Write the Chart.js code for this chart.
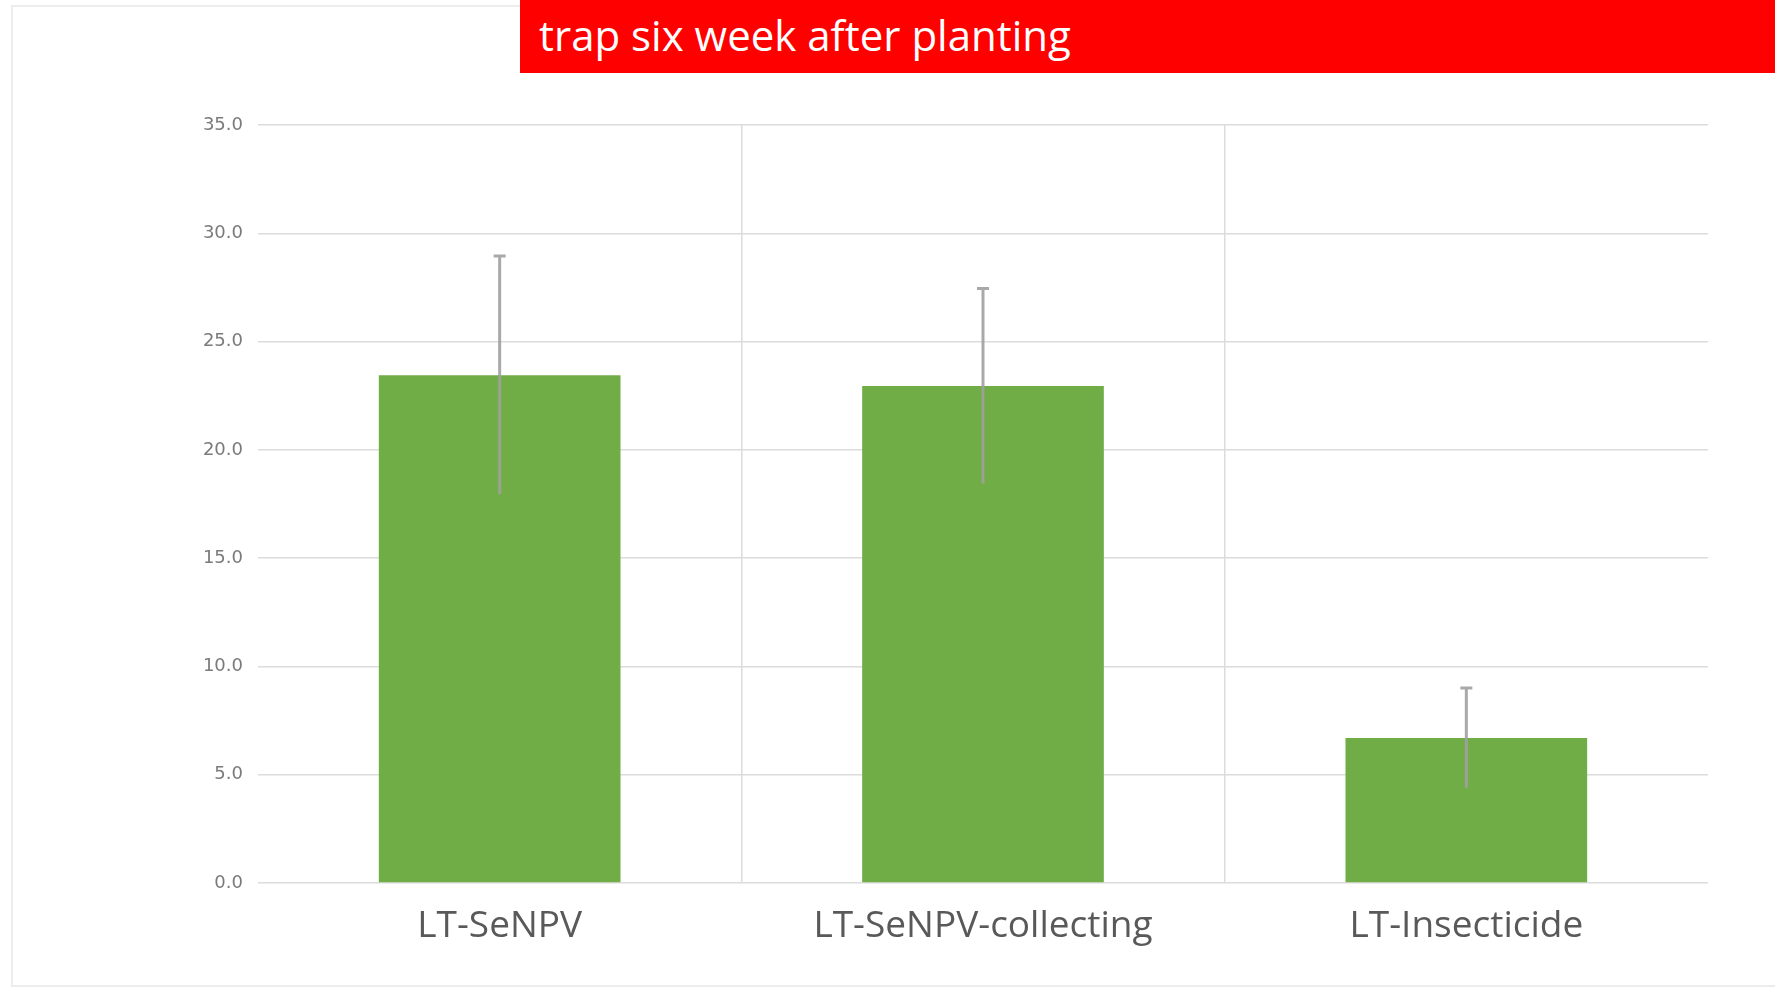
<!DOCTYPE html>
<html>
<head>
<meta charset="utf-8">
<script src="https://cdn.jsdelivr.net/npm/chart.js@4"></script>
<style>
  html, body { margin: 0; padding: 0; background: #ffffff; }
  body { width: 1775px; height: 999px; position: relative; overflow: hidden; }
  #panel { position: absolute; left: 11px; top: 5px; width: 1800px; height: 982px; border: 2px solid #ececec; box-sizing: border-box; }
  #wrap { position: absolute; left: 0; top: 0; width: 1775px; height: 999px; }
  #title { position: absolute; left: 520px; top: 0; width: 1255px; height: 73px; background: #ff0000; overflow: hidden; }
  #title span { position: absolute; left: 19px; top: 14px; font-family: "Open Sans", sans-serif; font-size: 42px; line-height: 1; color: #ffffff; white-space: nowrap; }
</style>
</head>
<body>
<div id="panel"></div>
<div id="wrap"><canvas id="c" width="1775" height="999"></canvas></div>
<div id="title"><span>trap six week after planting</span></div>
<script>
const categories = ["LT-SeNPV", "LT-SeNPV-collecting", "LT-Insecticide"];
const means = [23.45, 22.95, 6.7];
const errors = [5.5, 4.5, 2.3];
const yTicks = [0, 5, 10, 15, 20, 25, 30, 35];

const errorBarPlugin = {
  id: 'errorBars',
  afterDatasetsDraw(chart) {
    const ctx = chart.ctx;
    const xs = chart.scales.x, ys = chart.scales.y;
    ctx.save();
    ctx.strokeStyle = 'rgba(160,160,160,0.9)';
    ctx.lineWidth = 3;
    means.forEach((m, i) => {
      const x = xs.getPixelForValue(i);
      const yt = ys.getPixelForValue(m + errors[i]);
      const yb = ys.getPixelForValue(m - errors[i]);
      ctx.beginPath();
      ctx.moveTo(x, yt); ctx.lineTo(x, yb);
      ctx.moveTo(x - 6, yt); ctx.lineTo(x + 6, yt);
      ctx.stroke();
    });
    ctx.restore();
  }
};

new Chart(document.getElementById('c'), {
  type: 'bar',
  data: {
    labels: categories,
    datasets: [{
      data: means,
      backgroundColor: '#70ad47',
      borderWidth: 0,
      barPercentage: 1.0,
      categoryPercentage: 0.5
    }]
  },
  options: {
    responsive: false,
    animation: false,
    devicePixelRatio: 1,
    layout: { padding: { left: 0, right: 67, top: 125, bottom: 0 } },
    plugins: { legend: { display: false }, tooltip: { enabled: false } },
    scales: {
      x: {
        grid: {
          offset: true,
          drawTicks: false,
          color: (c) => (c.type !== 'tick' || c.index === 0) ? 'rgba(0,0,0,0)' : '#dcdcdc',
          lineWidth: 1.5
        },
        border: { display: false },
        ticks: {
          padding: 21,
          color: '#595959',
          font: { family: 'Open Sans', size: 37 }
        },
        afterFit: (s) => { s.height = 116; }
      },
      y: {
        min: 0, max: 35,
        afterBuildTicks: (s) => { s.ticks = yTicks.map(v => ({ value: v })); },
        grid: { drawTicks: false, color: '#dcdcdc', lineWidth: 1.5 },
        border: { display: false },
        ticks: {
          padding: 15,
          color: '#7a7a7a',
          font: { family: 'DejaVu Sans', size: 18 },
          callback: (v) => Number(v).toFixed(1)
        },
        afterFit: (s) => { s.width = 258; }
      }
    }
  },
  plugins: [errorBarPlugin]
});
</script>
</body>
</html>
